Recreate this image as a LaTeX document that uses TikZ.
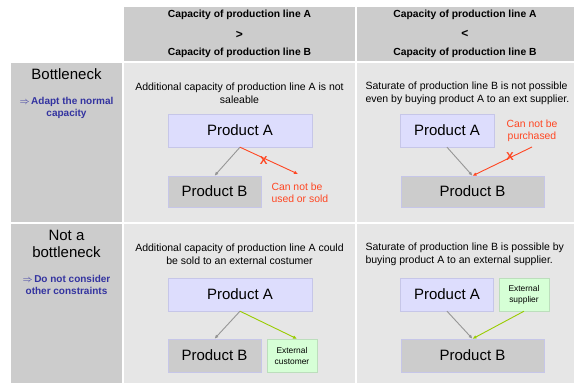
\documentclass[tikz,border=0pt]{standalone}
\usepackage{fontspec}
\setmainfont{Liberation Sans}
\usepackage{tikz}
\usetikzlibrary{arrows.meta}
\definecolor{headgray}{RGB}{204,204,204}
\definecolor{cellgray}{RGB}{230,230,230}
\definecolor{lavender}{RGB}{221,221,253}
\definecolor{lavenderline}{RGB}{198,198,232}
\definecolor{mintgreen}{RGB}{214,255,214}
\definecolor{mintline}{RGB}{188,222,188}
\definecolor{labelblue}{RGB}{51,51,160}
\definecolor{warnred}{RGB}{255,70,34}
\definecolor{limegreen}{RGB}{153,204,0}
\definecolor{arrowgray}{RGB}{150,150,150}
\tikzset{>={Latex[length=4pt,width=3.5pt]}}
\tikzset{%
    headtext/.style={font=\bfseries\fontsize{10.3}{10}\selectfont},
    celltext/.style={font=\fontsize{10.5}{13}\selectfont},
    rowtitle/.style={font=\fontsize{15}{16.5}\selectfont, align=center},
    rowhint/.style={font=\bfseries\fontsize{10}{12}\selectfont, text=labelblue, align=center},
    prodA/.style={draw=lavenderline, fill=lavender, inner sep=0pt,
        minimum height=33pt, font=\fontsize{15}{16}\selectfont},
    prodB/.style={draw=lavenderline, fill=headgray, inner sep=0pt,
        font=\fontsize{15}{16}\selectfont},
    outside/.style={draw=mintline, fill=mintgreen, inner sep=0pt, align=center,
        minimum width=50pt, minimum height=33pt, font=\fontsize{8.4}{11}\selectfont},
    flow/.style={->, arrowgray, line width=0.9pt},
    blocked/.style={->, warnred, line width=0.9pt},
    allowed/.style={->, limegreen, line width=0.9pt},
    warntext/.style={text=warnred, align=left, font=\fontsize{10.4}{12}\selectfont},
    cross/.style={text=warnred, font=\bfseries\fontsize{11.5}{11.5}\selectfont, inner sep=0pt}
}
\begin{document}
\begin{tikzpicture}[x=1pt,y=-1pt]
    \useasboundingbox (0,0) rectangle (574,383);
    % header, row titles and cells
    \fill[headgray] (124,7) rectangle (355,61);
    \fill[headgray] (357,7) rectangle (574,61);
    \fill[headgray] (11,63) rectangle (122,222);
    \fill[headgray] (11,224) rectangle (122,383);
    \fill[cellgray] (124,63) rectangle (355,222);
    \fill[cellgray] (357,63) rectangle (574,222);
    \fill[cellgray] (124,224) rectangle (355,383);
    \fill[cellgray] (357,224) rectangle (574,383);

    \node[headtext] (hA1) at (239.5,15) {Capacity of production line A};
    \node[headtext,font=\bfseries\fontsize{12}{12}\selectfont] (gt) at (239.5,34.5) {>};
    \node[headtext] (hB1) at (239.5,53) {Capacity of production line B};
    \node[headtext] (hA2) at (465,15) {Capacity of production line A};
    \node[headtext,font=\bfseries\fontsize{12}{12}\selectfont] (lt) at (465,33.5) {<};
    \node[headtext] (hB2) at (465,53) {Capacity of production line B};

    \node[rowtitle] (bneck) at (66.5,74) {Bottleneck};
    \node[rowhint] (adapt) at (66.5,107.5) {$\Rightarrow$\,Adapt the normal\\capacity};
    \node[rowtitle] (nobneck) at (66.5,244) {Not a\\bottleneck};
    \node[rowhint] (noconst) at (66.5,285) {$\Rightarrow$\,Do not consider\\other constraints};

    % bottleneck, A > B
    \node[celltext,align=center] (txt1) at (239.5,93) {Additional capacity of production line A is not\\saleable};
    \node[prodA,minimum width=144pt] (pa1) at (240,130.5) {Product A};
    \node[prodB,minimum width=93pt,minimum height=31pt] (pb1) at (214.5,191.5) {Product B};
    \coordinate (lost) at (298,174);
    \draw[flow] (pa1.south) -- (pb1.north);
    \draw[blocked] (pa1.south) -- (lost) node[cross,pos=0.41,yshift=-2pt]{X};
    \node[warntext,anchor=north west] (lostlbl) at (268,179) {Can not be\\used or sold};

    % bottleneck, A < B
    \node[celltext,align=left,anchor=west] (txt2) at (362,93) {Saturate of production line B is not possible\\even by buying product A to an ext supplier.};
    \node[prodA,minimum width=94pt] (pa2) at (447,130.5) {Product A};
    \node[prodB,minimum width=143pt,minimum height=31pt] (pb2) at (472.5,191.5) {Product B};
    \node[warntext,align=center] (nobuy) at (532,130.5) {Can not be\\purchased};
    \coordinate (nobuyend) at (532,147);
    \draw[flow] (pa2.south) -- (pb2.north);
    \draw[blocked] (nobuyend) -- (pb2.north) node[cross,pos=0.37,yshift=1pt]{X};

    % not a bottleneck, A > B
    \node[celltext,align=center] (txt3) at (239.5,254.5) {Additional capacity of production line A could\\be sold to an external costumer};
    \node[prodA,minimum width=144pt] (pa3) at (240,294.5) {Product A};
    \node[prodB,minimum width=93pt,minimum height=33pt] (pb3) at (214.5,355.5) {Product B};
    \node[outside] (cust) at (292,355.5) {External\\customer};
    \draw[flow] (pa3.south) -- (pb3.north);
    \draw[allowed] (pa3.south) -- ([xshift=5pt]cust.north);

    % not a bottleneck, A < B
    \node[celltext,align=left,anchor=west] (txt4) at (362,254.5) {Saturate of production line B is possible by\\buying product A to an external supplier.};
    \node[prodA,minimum width=93pt] (pa4) at (447,294.5) {Product A};
    \node[outside] (supp) at (524,294.5) {External\\supplier};
    \node[prodB,minimum width=143pt,minimum height=33pt] (pb4) at (472.5,355.5) {Product B};
    \draw[flow] (pa4.south) -- (pb4.north);
    \draw[allowed] (supp.south) -- (pb4.north);
\end{tikzpicture}
\end{document}
